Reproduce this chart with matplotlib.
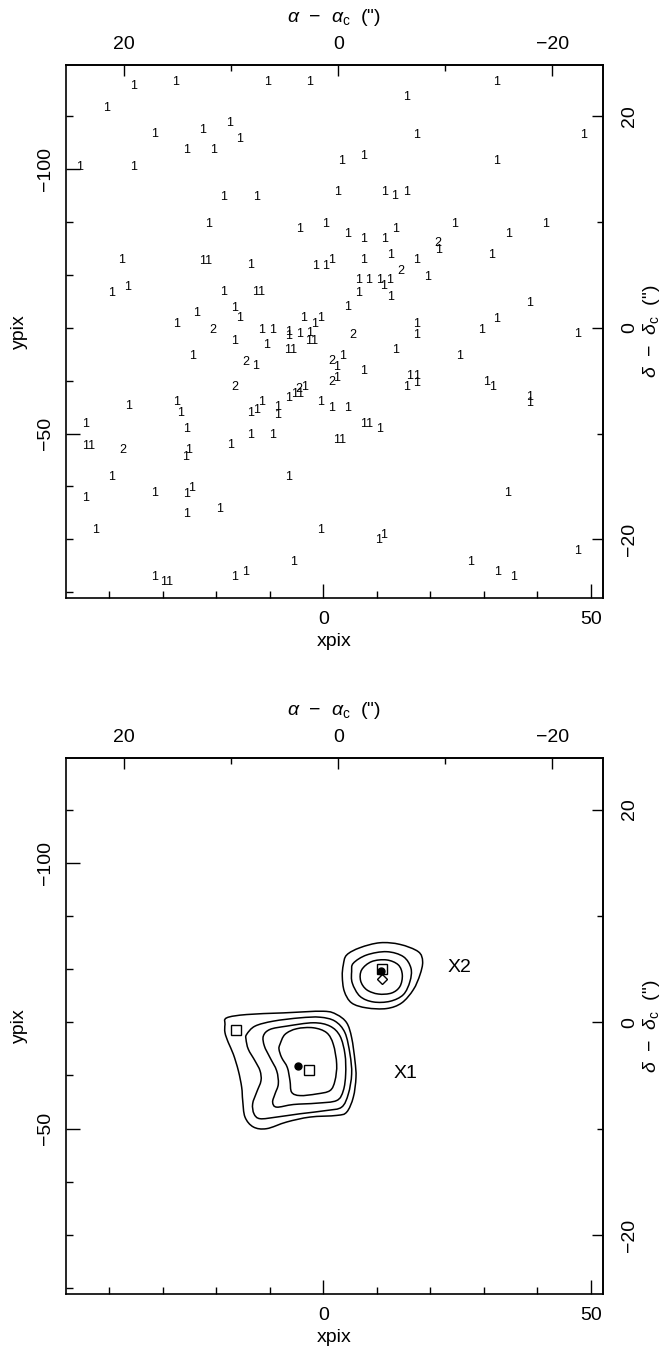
import numpy as np
import matplotlib
matplotlib.use("Agg")
import matplotlib.pyplot as plt
from matplotlib.path import Path
from matplotlib.patches import PathPatch
from matplotlib.ticker import FixedLocator, MultipleLocator

plt.rcParams['font.family'] = ['Liberation Sans', 'DejaVu Sans']
plt.rcParams['mathtext.fontset'] = 'custom'
plt.rcParams['mathtext.rm'] = 'Liberation Sans'
plt.rcParams['mathtext.it'] = 'Liberation Sans:italic'

# ---------------- data ----------------
# top panel: count labels at (xpix, ypix)
lab_x = [-35.5, -27.6, -10.5, -2.5, 32.4, -40.5, 15.5, -31.6, -22.5, -17.6,
         -15.6, -25.5, -20.6, 17.5, 48.6, -45.6, -35.5, 3.4, 7.5, 32.4,
         -18.6, -12.4, 2.6, 11.4, 13.4, 15.6, -21.5, -4.5, 0.4, 24.5,
         41.6, 4.5, 7.5, 11.4, 13.5, 34.6, 21.5, 21.6, -37.7, -22.0,
         -13.6, -1.4, 0.4, 1.6, 7.5, 12.5, 17.5, 31.5, -39.6, -36.6,
         -18.6, -12.0, 14.5, 19.5, 6.5, 8.4, 10.5, 11.3, 12.3, 6.5,
         12.5, 4.5, 17.5, 17.5, 29.5, 32.4, 38.5, 47.6, 5.5, 13.5,
         25.4, 1.6, 2.5, 3.6, 7.5, 1.6, 2.5, 16.2, 17.5, 17.5,
         15.5, 30.5, 31.6, 38.5, 38.5, 1.6, 4.5, 8.1, 10.5, 3.0,
         34.5, 10.4, 11.3, 47.6, 27.6, 32.5, 35.5, -23.7, -16.5, -15.6,
         -27.5, -20.6, -11.5, -9.5, -6.5, -6.5, -4.5, -3.6, -1.7, -0.6,
         -2.5, -2.1, -16.5, -10.6, -6.2, -24.5, -14.5, -12.6, -16.5, -4.6,
         -3.5, -6.5, -4.8, -0.5, -36.4, -27.5, -26.6, -13.6, -12.4, -11.5,
         -8.6, -8.6, -44.5, -43.9, -25.5, -13.6, -9.5, -17.4, -37.5, -25.1,
         -25.7, -39.6, -6.5, -44.5, -31.6, -25.5, -24.6, -25.5, -19.4, -42.5,
         -0.5, -5.6, -31.6, -29.3, -16.5, -14.6]
lab_y = [-115.7, -116.4, -116.4, -116.4, -116.4, -111.6, -113.6, -106.6, -107.5, -108.7,
         -105.7, -103.7, -103.7, -106.4, -106.4, -100.5, -100.5, -101.6, -102.5, -101.6,
         -94.7, -94.7, -95.7, -95.7, -94.9, -95.7, -89.7, -88.6, -89.7, -89.7,
         -89.7, -87.8, -86.8, -86.8, -88.6, -87.8, -86.0, -84.7, -82.8, -82.7,
         -81.8, -81.6, -81.6, -82.8, -82.8, -83.8, -82.8, -83.8, -76.6, -77.7,
         -76.7, -76.7, -80.7, -79.7, -79.0, -79.0, -79.0, -77.9, -79.0, -76.6,
         -75.8, -73.9, -70.7, -68.6, -69.6, -71.7, -74.7, -68.8, -68.6, -65.8,
         -64.7, -63.8, -62.5, -64.7, -61.8, -59.7, -60.6, -60.8, -60.8, -59.5,
         -58.8, -59.7, -58.8, -56.9, -55.8, -54.8, -54.8, -51.8, -50.8, -48.8,
         -38.7, -29.8, -30.8, -27.8, -25.8, -23.9, -22.8, -72.8, -73.8, -71.8,
         -70.8, -69.5, -69.6, -69.6, -69.2, -68.5, -68.8, -71.8, -70.8, -71.8,
         -69.1, -67.6, -67.6, -66.8, -65.8, -64.7, -63.6, -62.8, -58.8, -58.4,
         -58.9, -56.8, -57.5, -55.9, -55.2, -55.9, -53.8, -53.8, -54.4, -55.9,
         -55.0, -53.5, -51.9, -47.7, -50.8, -49.7, -49.7, -47.8, -46.8, -46.9,
         -45.6, -41.7, -41.7, -37.8, -38.7, -38.6, -39.7, -34.7, -35.8, -31.7,
         -31.7, -25.8, -22.9, -22.0, -22.8, -23.9]
lab_txt = ["1", "1", "1", "1", "1", "1", "1", "1", "1", "1",
           "1", "1", "1", "1", "1", "1", "1", "1", "1", "1",
           "1", "1", "1", "1", "1", "1", "1", "1", "1", "1",
           "1", "1", "1", "1", "1", "1", "2", "1", "1", "11",
           "1", "1", "1", "1", "1", "1", "1", "1", "1", "1",
           "1", "11", "2", "1", "1", "1", "1", "1", "1", "1",
           "1", "1", "1", "1", "1", "1", "1", "1", "2", "1",
           "1", "2", "1", "1", "1", "2", "1", "1", "1", "1",
           "1", "1", "1", "1", "1", "1", "1", "11", "1", "11",
           "1", "1", "1", "1", "1", "1", "1", "1", "1", "1",
           "1", "2", "1", "1", "1", "1", "1", "1", "1", "1",
           "1", "11", "1", "1", "11", "1", "2", "1", "2", "2",
           "1", "1", "11", "1", "1", "1", "1", "1", "1", "1",
           "1", "1", "1", "11", "1", "1", "1", "1", "2", "1",
           "1", "1", "1", "1", "1", "1", "1", "1", "1", "1",
           "1", "1", "1", "11", "1", "1"]

# bottom panel: contour lines (xpix, ypix vertices), source X1 (4 levels) and X2 (3 levels)
x1_c1_x = [-18.07, -14.33, -7.47, 0.0, 2.50, 4.37, 5.30, 5.92, 6.11, 5.61, 4.37, 2.50,
           -2.49, -6.85, -10.59, -13.08, -14.64, -15.07, -15.26, -15.88, -16.82, -17.75,
           -18.38, -18.38]
x1_c1_y = [-70.84, -71.46, -71.77, -72.08, -71.46, -69.91, -67.11, -62.75, -59.64, -55.91,
           -53.11, -52.49, -52.18, -51.25, -50.00, -50.32, -52.18, -55.29, -57.78, -60.89,
           -64.00, -66.17, -68.04, -69.59]
x1_c2_x = [-14.33, -12.77, -9.34, -4.36, -0.62, 2.18, 4.05, 4.99, 5.30, 4.68, 3.43, 0.63,
           -4.36, -8.72, -11.83, -12.96, -13.21, -12.46, -11.65, -11.83, -12.77, -14.02, -14.45]
x1_c2_y = [-67.73, -69.28, -70.22, -70.84, -70.96, -70.22, -68.04, -64.00, -60.27, -56.53,
           -54.05, -53.42, -52.80, -52.18, -51.87, -52.80, -54.67, -56.85, -59.02, -60.89,
           -62.75, -64.93, -66.80]
x1_c3_x = [-11.21, -9.97, -6.85, -1.87, 1.25, 3.12, 4.05, 4.18, 3.74, 2.50, -1.24, -5.60,
           -8.72, -9.47, -9.03, -8.41, -8.72, -9.97, -11.02]
x1_c3_y = [-67.42, -68.66, -69.28, -69.91, -69.28, -67.42, -64.00, -60.27, -57.16, -55.29,
           -54.79, -54.54, -54.05, -54.98, -56.53, -58.40, -60.89, -63.37, -65.55]
x1_c4_x = [-8.10, -7.16, -4.98, -1.87, 0.63, 1.87, 2.50, 2.18, 1.25, -1.24, -4.36, -5.92,
           -6.23, -6.73, -7.79, -8.28]
x1_c4_y = [-65.86, -67.73, -68.79, -68.97, -68.04, -65.86, -62.13, -59.02, -57.16, -56.53,
           -56.22, -56.85, -59.02, -61.51, -63.37, -64.93]
x2_c1_x = [4.37, 6.86, 10.60, 14.33, 17.76, 18.57, 18.07, 16.83, 14.65, 11.84, 8.10, 5.30,
           3.93, 3.55, 3.74]
x2_c1_y = [-82.66, -84.03, -84.96, -84.65, -83.28, -81.42, -78.93, -76.13, -73.64, -72.59,
           -72.71, -73.64, -75.82, -78.62, -80.80]
x2_c2_x = [5.61, 8.10, 11.84, 14.96, 16.39, 16.20, 14.96, 12.47, 9.35, 6.86, 5.42, 5.30]
x2_c2_y = [-81.11, -82.66, -83.28, -82.35, -80.17, -77.69, -75.20, -73.95, -73.83, -74.89,
           -77.38, -79.55]
x2_c3_x = [7.17, 9.04, 11.84, 14.02, 14.77, 14.33, 12.78, 10.28, 8.10, 6.98]
x2_c3_y = [-79.86, -81.42, -81.73, -80.80, -78.93, -76.75, -75.51, -75.32, -76.13, -77.81]

dot_x = [-4.8, 10.7]
dot_y = [-61.8, -79.7]
sq_x = [-2.6, -16.4, 10.9]
sq_y = [-61.0, -68.5, -80.0]
dia_x = [10.9]
dia_y = [-78.1]
src_names = ["X1", "X2"]
src_lx = [15.3, 25.4]
src_ly = [-60.3, -80.3]

XLIM = (-48.1, 52.3)
YLIM = (-18.9, -119.7)
X0, Y0, SCALE = 2.8, -70.0, 0.5   # reference pixel and arcsec per pixel

FS = 14


def closed_curve(xs, ys):
    P = np.column_stack([xs, ys])
    N = len(P)
    verts = [P[0]]
    codes = [Path.MOVETO]
    for i in range(N):
        p0, p1, p2, p3 = P[i - 1], P[i], P[(i + 1) % N], P[(i + 2) % N]
        verts += [p1 + (p2 - p0) / 6.0, p2 - (p3 - p1) / 6.0, p2]
        codes += [Path.CURVE4] * 3
    return Path(verts, codes)


def style(ax):
    ax.set_xlim(*XLIM)
    ax.set_ylim(*YLIM)
    ax.xaxis.set_major_locator(FixedLocator([0, 50]))
    ax.xaxis.set_minor_locator(MultipleLocator(10))
    ax.yaxis.set_major_locator(FixedLocator([-100, -50]))
    ax.yaxis.set_minor_locator(MultipleLocator(10))
    ax.tick_params(which='both', direction='in', width=1.0, labelsize=FS, pad=9)
    ax.tick_params(which='major', length=10)
    ax.tick_params(which='minor', length=5)
    ax.tick_params(axis='y', labelrotation=90)
    for t in ax.get_yticklabels():
        t.set_va('center')
    for s in ax.spines.values():
        s.set_linewidth(1.2)
    ax.set_xlabel('xpix', fontsize=FS, labelpad=4)
    ax.set_ylabel('ypix', fontsize=FS, labelpad=6)

    sx = ax.secondary_xaxis('top', functions=(lambda x: -(x - X0) * SCALE,
                                               lambda a: X0 - a / SCALE))
    sx.set_xticks([20, 0, -20])
    sx.set_xticks([10, -10], minor=True)
    sx.tick_params(which='both', direction='in', width=1.0, labelsize=FS, pad=9)
    sx.tick_params(which='major', length=8)
    sx.tick_params(which='minor', length=4)
    sx.set_xlabel(r'$\alpha$  $-$  $\alpha_{\rm c}$  (")', fontsize=FS, labelpad=10)
    sx.spines['top'].set_linewidth(1.2)

    sy = ax.secondary_yaxis('right', functions=(lambda y: -(y - Y0) * SCALE,
                                                 lambda d: Y0 - d / SCALE))
    sy.set_yticks([20, 0, -20])
    sy.set_yticks([10, -10], minor=True)
    sy.tick_params(which='both', direction='in', width=1.0, labelsize=FS, pad=13)
    sy.tick_params(which='major', length=8)
    sy.tick_params(which='minor', length=4)
    sy.tick_params(axis='y', labelrotation=90)
    for t in sy.get_yticklabels():
        t.set_va('center')
    sy.set_ylabel(r'$\delta$  $-$  $\delta_{\rm c}$  (")', fontsize=FS, labelpad=2)
    sy.spines['right'].set_linewidth(1.2)


fig = plt.figure(figsize=(6.67, 13.57), dpi=100)
ax1 = fig.add_axes([0.099, 0.5593, 0.8051, 0.3928])
ax2 = fig.add_axes([0.099, 0.0464, 0.8051, 0.3950])

style(ax1)
for x, y, t in zip(lab_x, lab_y, lab_txt):
    ax1.text(x, y, t, ha='center', va='center', fontsize=9)

style(ax2)
for cx, cy in [(x1_c1_x, x1_c1_y), (x1_c2_x, x1_c2_y), (x1_c3_x, x1_c3_y),
               (x1_c4_x, x1_c4_y), (x2_c1_x, x2_c1_y), (x2_c2_x, x2_c2_y),
               (x2_c3_x, x2_c3_y)]:
    ax2.add_patch(PathPatch(closed_curve(cx, cy), fill=False, ec='black', lw=1.1))
ax2.plot(sq_x, sq_y, ls='none', marker='s', ms=7, mfc='white', mec='black', mew=1.0, zorder=3)
ax2.plot(dia_x, dia_y, ls='none', marker='D', ms=5, mfc='white', mec='black', mew=1.0, zorder=3)
ax2.plot(dot_x, dot_y, ls='none', marker='o', ms=5, mfc='black', mec='black', zorder=4)
for n, x, y in zip(src_names, src_lx, src_ly):
    ax2.text(x, y, n, ha='center', va='center', fontsize=FS)

fig.savefig('out.png', dpi=100)
